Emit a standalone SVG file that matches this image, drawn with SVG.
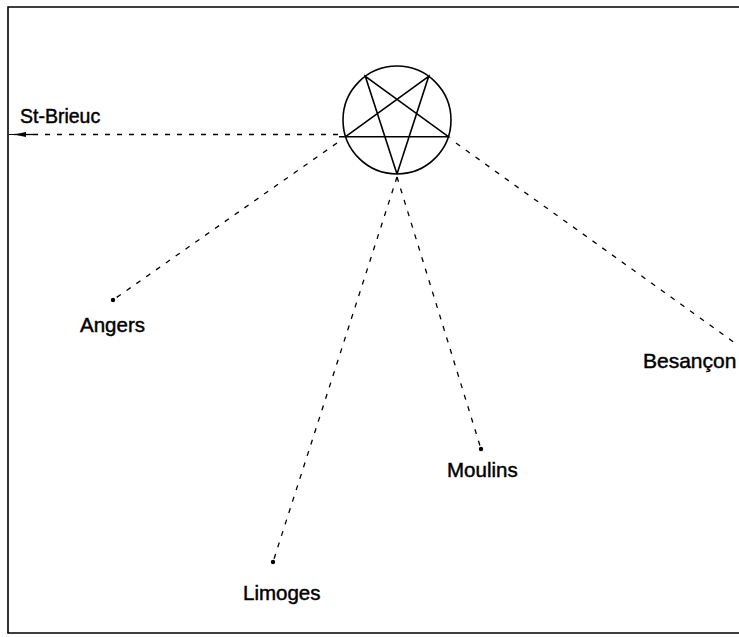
<svg xmlns="http://www.w3.org/2000/svg" width="739" height="637" viewBox="0 0 739 637">
<style>
.frame{fill:none;stroke:#000;stroke-width:1.6}
.dash{fill:none;stroke:#000;stroke-width:1.3;stroke-dasharray:5 7}
.sym{fill:none;stroke:#000;stroke-width:1.6}
.lbl{font-family:"Liberation Sans",Arial,sans-serif;font-size:20.5px;fill:#000;stroke:#000;stroke-width:0.45}
.dot{fill:#000}
</style>
<defs>
<marker id="arr" markerWidth="12" markerHeight="8" refX="12" refY="4" orient="auto" markerUnits="userSpaceOnUse">
<path d="M0,1.5 L12,4 L0,6.5 Z" fill="#000"/>
</marker>
</defs>
<rect width="739" height="637" fill="#fff"/>
<path class="frame" d="M739,7 L8,7 L8,633 L739,633"/>
<g id="connectors">
<line class="dash" x1="338" y1="134.5" x2="33" y2="134.5"/>
<line fill="none" stroke="#000" stroke-width="1.3" x1="33" y1="134.5" x2="14" y2="134.5" marker-end="url(#arr)"/>
<line fill="none" stroke="#000" stroke-width="1" x1="14" y1="134.5" x2="9" y2="134.5"/>
<line class="dash" x1="337" y1="143" x2="113" y2="300"/>
<line class="dash" x1="397" y1="177" x2="273" y2="562"/>
<line class="dash" x1="397" y1="177" x2="481" y2="449"/>
<line class="dash" x1="456" y1="143" x2="735" y2="343"/>
</g>
<g id="pentagram">
<circle class="sym" cx="397" cy="120" r="54"/>
<path class="sym" d="M397,174 L365.3,76.3 L448.4,136.7 L339,136.7 M345.6,136.7 L428.7,76.3 L397,174"/>
</g>
<g id="st-brieuc"><text class="lbl" x="20" y="123" style="font-size:19.5px">St-Brieuc</text></g>
<g id="angers"><circle class="dot" cx="113" cy="300" r="2.2"/><text class="lbl" x="80" y="332">Angers</text></g>
<g id="besancon"><text class="lbl" x="643" y="368" style="font-size:21px">Besançon</text></g>
<g id="moulins"><circle class="dot" cx="481" cy="449" r="2.2"/><text class="lbl" x="447" y="477">Moulins</text></g>
<g id="limoges"><circle class="dot" cx="273" cy="562" r="2.2"/><text class="lbl" x="243" y="600">Limoges</text></g>
</svg>
